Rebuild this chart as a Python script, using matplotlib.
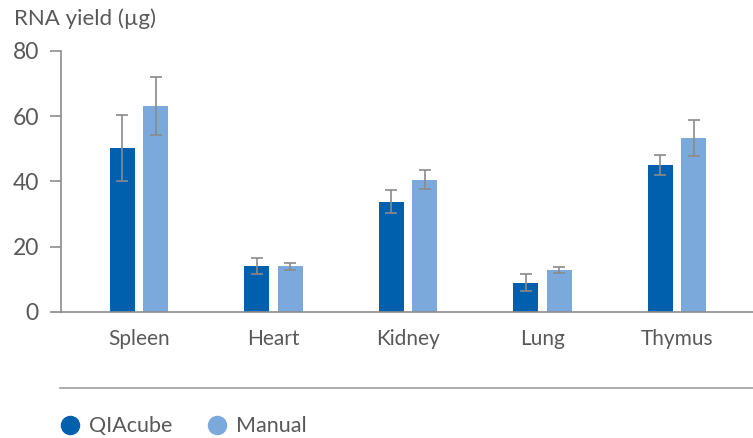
import numpy as np
import matplotlib.pyplot as plt
from matplotlib.lines import Line2D

plt.rcParams['font.family'] = ['Lato', 'DejaVu Sans']

tissues = ['Spleen', 'Heart', 'Kidney', 'Lung', 'Thymus']
qiacube = [50.2, 14.1, 33.8, 9.0, 45.1]
qiacube_err = [10.2, 2.5, 3.6, 2.7, 3.1]
manual = [63.1, 14.0, 40.5, 13.0, 53.2]
manual_err = [9.0, 1.0, 2.9, 0.9, 5.5]

c_qia = '#0060AE'
c_man = '#7CA9DC'
grey = '#595959'
axis_grey = '#8C8C8C'

fig = plt.figure(figsize=(7.53, 4.38), dpi=100)
ax = fig.add_axes([0.081, 0.2877, 0.919, 0.5959])

x = np.arange(len(tissues))
w = 0.186
off = 0.123
err_kw = dict(ecolor='#8A8A8A', elinewidth=1.2, capsize=4, capthick=1.2)
ax.bar(x - off, qiacube, w, yerr=qiacube_err, color=c_qia, error_kw=err_kw, zorder=2)
ax.bar(x + off, manual, w, yerr=manual_err, color=c_man, error_kw=err_kw, zorder=2)

ax.set_xlim(-0.58, 4.565)
ax.set_ylim(0, 80)
ax.set_yticks([0, 20, 40, 60, 80])
ax.set_xticks(x)
ax.set_xticklabels(tissues)

for s in ['top', 'right']:
    ax.spines[s].set_visible(False)
for s in ['left', 'bottom']:
    ax.spines[s].set_color(axis_grey)
    ax.spines[s].set_linewidth(1.2)
ax.tick_params(axis='y', length=8, width=1.2, color=axis_grey, labelcolor=grey,
               labelsize=16.5, pad=8)
ax.tick_params(axis='x', length=0, labelcolor=grey, labelsize=15, pad=12)

fig.text(0.018, 0.958, 'RNA yield (µg)', fontsize=16, color=grey, va='center')

# separator and legend underneath the plot
fig.add_artist(Line2D([0.08, 1.0], [0.114, 0.114], transform=fig.transFigure,
                      color='#A0A0A0', lw=1.2))
handles = [Line2D([], [], marker='o', ls='', ms=13, color=c_qia, label='QIAcube'),
           Line2D([], [], marker='o', ls='', ms=13, color=c_man, label='Manual')]
leg = fig.legend(handles=handles, loc='center left', bbox_to_anchor=(0.054, 0.027),
                 ncol=2, frameon=False, fontsize=15.5, handletextpad=0.45,
                 columnspacing=1.6, handlelength=0.9)
for t in leg.get_texts():
    t.set_color(grey)

fig.savefig('out.png', dpi=100)
